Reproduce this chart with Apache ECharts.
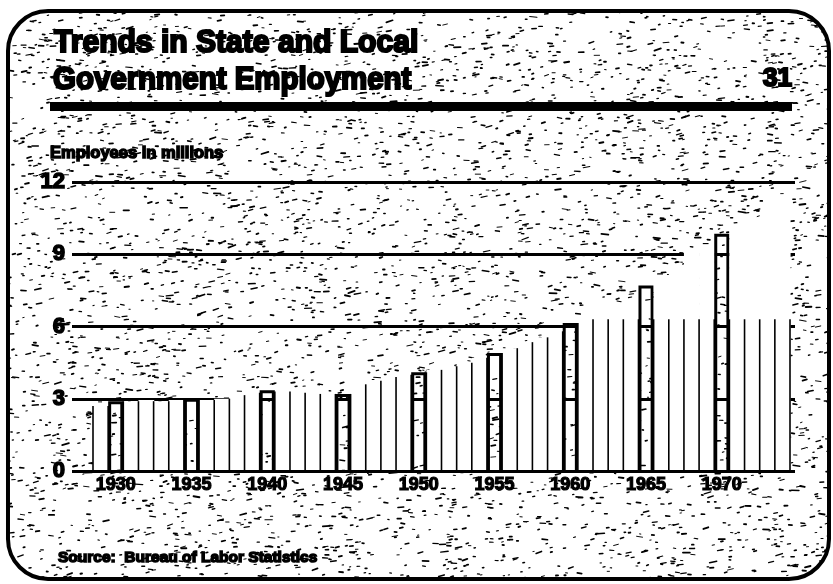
<!DOCTYPE html>
<html>
<head>
<meta charset="utf-8">
<script src="https://cdn.jsdelivr.net/npm/echarts@6/dist/echarts.min.js"></script>
<style>
  html, body { margin: 0; padding: 0; background: #fff; }
  #chart { width: 833px; height: 584px; }
</style>
</head>
<body>
<div id="chart"></div>
<script>
// State and local government employment, millions of persons, by year
const years = [
  '1929', '1930', '1931', '1932', '1933', '1934', '1935', '1936', '1937', '1938',
  '1939', '1940', '1941', '1942', '1943', '1944', '1945', '1946', '1947', '1948',
  '1949', '1950', '1951', '1952', '1953', '1954', '1955', '1956', '1957', '1958',
  '1959', '1960', '1961', '1962', '1963', '1964', '1965', '1966', '1967', '1968',
  '1969', '1970', '1971', '1972', '1973', '1974'
];
const employment = [
  2.7, 2.9, 2.9, 2.95, 2.9, 2.95, 3.0, 2.95, 3.0, 3.15,
  3.25, 3.35, 3.3, 3.3, 3.25, 3.2, 3.2, 3.6, 3.75, 3.9,
  4.0, 4.1, 4.2, 4.35, 4.5, 4.7, 4.9, 5.1, 5.35, 5.55,
  5.8, 6.15, 6.3, 6.5, 6.75, 7.0, 7.7, 8.1, 8.55, 9.1,
  9.4, 9.85, 10.2, 10.5, 10.8, 11.1
];
// Benchmark years shown as outlined bars and as axis labels
const benchmarkYears = ['1930', '1935', '1940', '1945', '1950', '1955', '1960', '1965', '1970'];
// Value axis ticks, millions
const yTicks = [0, 3, 6, 9, 12];

// ---- styling ----
const INK = '#000';
const W = 833, H = 584;
const DIVIDER_CAP = 6.3;          // year dividers are ruled no higher than this level
const FONT = '"Liberation Sans", Arial, sans-serif';

// Stippled paper texture: a fixed scatter of short ink dashes over the card
function makeDashes(w, h, count, seed) {
  let s = seed;
  const next = () => (s = (s * 16807) % 2147483647) / 2147483647;
  const list = [];
  for (let i = 0; i < count; i++) {
    const x = next() * w, y = next() * h;
    const len = 1.2 + next() * next() * 6.5;
    const ang = -0.35 + next() * 0.55;
    const lw = 0.9 + next() * 1.0;
    list.push([x, y, x + Math.cos(ang) * len, y + Math.sin(ang) * len, lw]);
  }
  return list;
}
const dashes = makeDashes(W, H, 5000, 4711);

function paintDashes(w, h) {
  const c = document.createElement('canvas');
  c.width = w; c.height = h;
  const g = c.getContext('2d');
  g.strokeStyle = INK;
  g.lineCap = 'round';
  for (const d of dashes) {
    g.lineWidth = d[4];
    g.beginPath();
    g.moveTo(d[0], d[1]);
    g.lineTo(d[2], d[3]);
    g.stroke();
  }
  return c;
}
const stippleCanvas = paintDashes(W, H);

const chart = echarts.init(document.getElementById('chart'), null, { renderer: 'canvas' });

// Each year: a white column with a thin divider on its left.
// Benchmark years leave the stippled card showing through a heavy outline.
function renderYear(params, api) {
  const i = params.dataIndex;
  const v = api.value(1);
  const top = api.coord([i, v]);
  const base = api.coord([i, 0]);
  const w = api.size([1, 0])[0];
  const left = top[0] - w / 2;
  const right = left + w;
  const prev = i > 0 ? employment[i - 1] : v;
  const divTop = api.coord([i, Math.min(v, prev, DIVIDER_CAP)])[1];
  const isBenchmark = benchmarkYears.includes(years[i]);
  const children = [];
  if (!isBenchmark) {
    children.push({ type: 'rect', shape: { x: left, y: top[1], width: w + 0.6, height: base[1] - top[1] },
      style: { fill: '#fff' } });
  }
  children.push({ type: 'line', shape: { x1: left, y1: base[1], x2: left, y2: divTop },
    style: { stroke: INK, lineWidth: 1.6 } });
  if (isBenchmark) {
    const bx0 = left + 1.5, bx1 = right - 1.5, by0 = top[1] + 1.5, by1 = base[1];
    children.push({ type: 'polyline',
      shape: { points: [[bx0, by1], [bx0, by0], [bx1, by0], [bx1, by1]] },
      style: { stroke: INK, lineWidth: 3, fill: 'none' } });
  }
  if (i === employment.length - 1) {
    const edgeTop = api.coord([i, Math.min(v, DIVIDER_CAP)])[1];
    children.push({ type: 'line', shape: { x1: right, y1: base[1], x2: right, y2: edgeTop },
      style: { stroke: INK, lineWidth: 1.6 } });
  }
  return { type: 'group', children };
}

const yearData = employment.map((v, i) => [i, v]);

const heavy = (size, extra) => Object.assign({
  font: 'bold ' + size + 'px ' + FONT, fill: INK, stroke: INK, lineWidth: 1.2,
  verticalAlign: 'middle', textVerticalAlign: 'middle'
}, extra || {});

const option = {
  backgroundColor: '#fff',
  animation: false,
  grid: [
    { left: 93, right: 43, top: 182, bottom: 113 },   // columns
    { left: 72, right: 38, top: 182, bottom: 113 }    // rules and value labels
  ],
  xAxis: [
    {
      type: 'category', gridIndex: 0, data: years, boundaryGap: true, z: 5,
      axisLine: { lineStyle: { color: INK, width: 3 } },
      axisTick: { show: false },
      axisLabel: {
        interval: 0, margin: 5, color: INK,
        fontFamily: FONT, fontWeight: 'bold', fontSize: 18,
        textBorderColor: INK, textBorderWidth: 1.2,
        formatter: v => (benchmarkYears.includes(v) ? v : '')
      },
      splitLine: { show: false }
    },
    { type: 'value', gridIndex: 1, min: 0, max: 1, show: false }
  ],
  yAxis: [
    { type: 'value', gridIndex: 0, min: yTicks[0], max: yTicks[yTicks.length - 1], show: false },
    {
      type: 'value', gridIndex: 1,
      min: yTicks[0], max: yTicks[yTicks.length - 1], interval: yTicks[1] - yTicks[0],
      axisLine: { show: false }, axisTick: { show: false },
      axisLabel: { margin: 7, color: INK, fontFamily: FONT, fontWeight: 'bold', fontSize: 22,
                   textBorderColor: INK, textBorderWidth: 1.5 },
      splitLine: { lineStyle: { color: INK, width: 3 } }
    }
  ],
  series: [
    { type: 'custom', name: 'State and local government employment', xAxisIndex: 0, yAxisIndex: 0, z: 2,
      renderItem: renderYear, encode: { x: 0, y: 1 }, data: yearData }
  ],
  graphic: {
    elements: [
      { type: 'rect', z: -10, silent: true,
        shape: { x: 8, y: 11, width: 821, height: 568, r: 40 },
        style: { fill: { image: stippleCanvas, repeat: 'no-repeat' }, stroke: INK, lineWidth: 4 } },
      { type: 'text', z: 10, x: 54, y: 43, scaleX: 0.97,
        style: heavy(31, { text: 'Trends in State and Local', lineWidth: 2.2 }) },
      { type: 'text', z: 10, x: 53, y: 80, scaleX: 0.95,
        style: heavy(31, { text: 'Government Employment', lineWidth: 2.2 }) },
      { type: 'text', z: 10, x: 792, y: 79,
        style: heavy(26, { text: '31', align: 'right', textAlign: 'right', lineWidth: 2.2 }) },
      { type: 'rect', z: 10, shape: { x: 50, y: 102, width: 742, height: 9 }, style: { fill: INK } },
      { type: 'text', z: 10, x: 50, y: 153,
        style: heavy(16.5, { text: 'Employees in millions', lineWidth: 1.5 }) },
      { type: 'text', z: 10, x: 58, y: 558,
        style: heavy(15.5, { text: 'Source:  Bureau of Labor Statistics', lineWidth: 1.5 }) }
    ]
  }
};

chart.setOption(option);
</script>
</body>
</html>
